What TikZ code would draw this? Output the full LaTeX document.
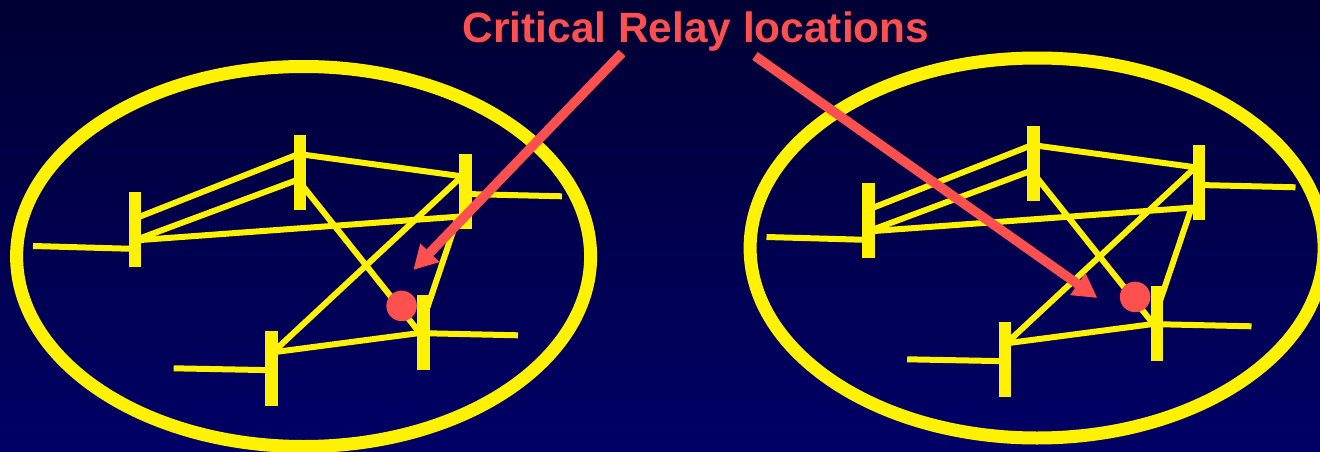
\documentclass[tikz,border=0pt]{standalone}
\usepackage{fontspec}
\setmainfont{Liberation Sans}
\usetikzlibrary{calc,arrows.meta,shapes.geometric}
\definecolor{relayred}{HTML}{FF5050}
\definecolor{navytop}{HTML}{000033}
\definecolor{navybot}{HTML}{000066}
\tikzset{
  ring/.style={ellipse,draw=yellow,line width=13pt,inner sep=0pt,outer sep=0pt,minimum width=574pt,minimum height=380pt},
  busbar/.style={rectangle,fill=yellow,inner sep=0pt,outer sep=0pt,minimum width=12.5pt,minimum height=75pt},
  linewire/.style={draw=yellow,line width=6pt,line join=miter},
  feeder/.style={draw=yellow,line width=6pt},
  relay/.style={circle,fill=relayred,inner sep=0pt,outer sep=0pt,minimum size=30.5pt},
  pointer/.style={draw=relayred,line width=9.5pt,-{Triangle[length=24pt,width=25pt]}}
}
\begin{document}
\begin{tikzpicture}[x=1pt,y=-1pt]
\useasboundingbox (0,0) rectangle (1320,452);
\clip (0,0) rectangle (1320,452);
\shade[top color=navytop,bottom color=navybot] (0,0) rectangle (1320,452);
\foreach \p/\dx/\dy/\ry in {L/0/0/256.5,R/733.5/-9/248}{
  \begin{scope}[shift={(\dx,\dy)}]
    \node[ring] (\p ring) at (303.6,{\ry-\dy}) {};
    \node[busbar] (\p a) at (135,229.5) {};
    \node[busbar] (\p b) at (300,172) {};
    \node[busbar] (\p c) at (465.5,191.5) {};
    \node[busbar] (\p d) at (423.5,332.5) {};
    \node[busbar] (\p e) at (271.5,368) {};
    \coordinate (\p k) at (458,216.7);
    \coordinate (\p fa) at (33,246);
    \coordinate (\p fc) at (562,196.3);
    \coordinate (\p fd) at (518,335.3);
    \coordinate (\p fe) at (173.7,368.3);
    \path[linewire] ($(\p a)+(0,-11)$) -- ($(\p b)+(0,-18.5)$);
    \path[linewire] ($(\p a)+(0,10.7)$) -- ($(\p b)+(0,6.9)$);
    \path[linewire] ($(\p a)+(0,10.9)$) -- (\p k) -- ($(\p d)+(0,-13.5)$);
    \path[linewire] ($(\p b)+(0,-17.8)$) -- ($(\p c)+(0,-14.7)$);
    \path[linewire] ($(\p b)+(0,10.5)$) -- ($(\p d)+(0,5)$);
    \path[linewire] ($(\p c)+(0,-18.6)$) -- ($(\p e)+(0,-14.4)$);
    \path[linewire] ($(\p e)+(0,-15.5)$) -- (\p d);
    \path[feeder] (\p fa) -- ($(\p a)+(0,19.4)$);
    \path[feeder] ($(\p c)+(0,2.5)$) -- (\p fc);
    \path[feeder] ($(\p d)+(0,0.7)$) -- (\p fd);
    \path[feeder] (\p fe) -- ($(\p e)+(0,2.2)$);
    \node[busbar] at (\p a) {};
    \node[busbar] at (\p b) {};
    \node[busbar] at (\p c) {};
    \node[busbar] at (\p d) {};
    \node[busbar] at (\p e) {};
    \node[relay] (\p relay) at (401.6,305.9) {};
  \end{scope}
}
\coordinate (tipL) at (413.3,270);
\coordinate (tipR) at (1097.4,298);
\coordinate (startL) at (622,53);
\coordinate (startR) at (755,56);
\path[pointer] (startL) -- (tipL);
\path[pointer] (startR) -- (tipR);
\node[text=relayred,font=\fontsize{42.4}{48}\selectfont\bfseries] (title) at (696,31.5) {Critical Relay locations};
\end{tikzpicture}
\end{document}
